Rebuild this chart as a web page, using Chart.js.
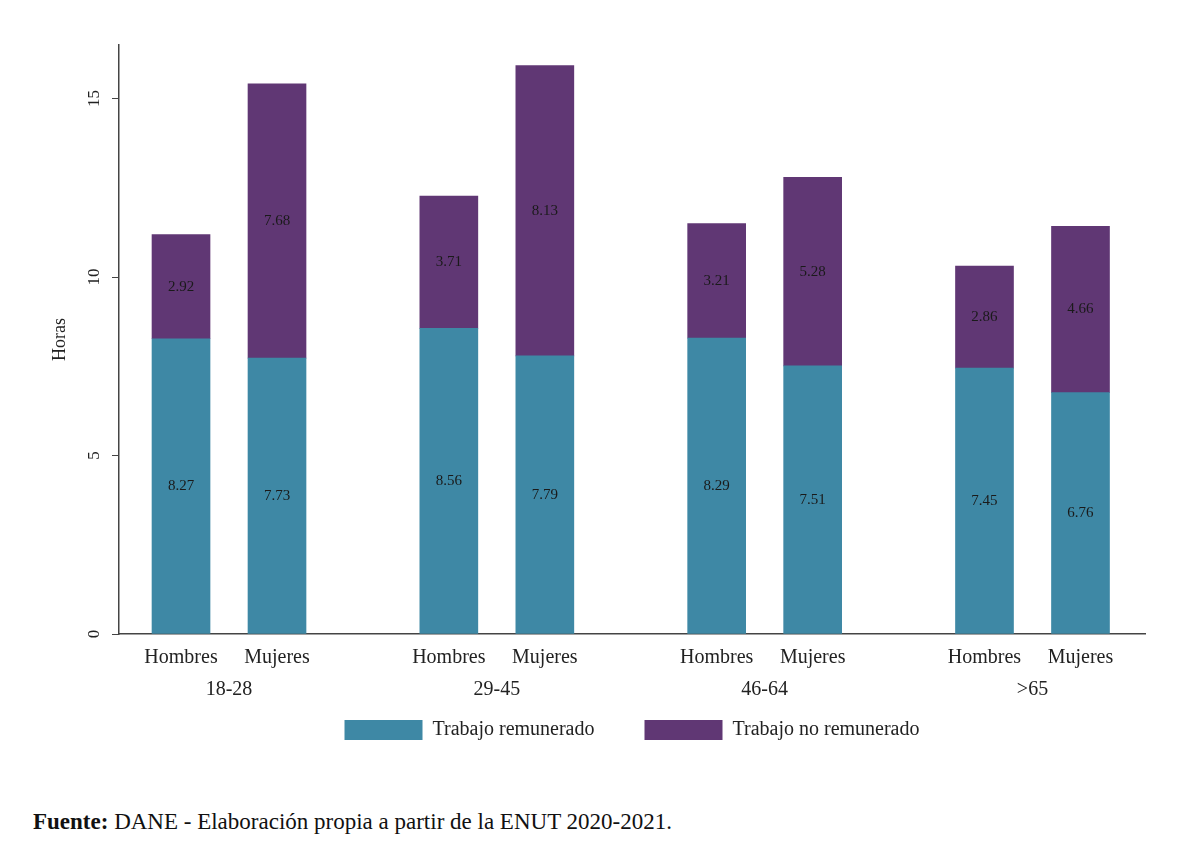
<!DOCTYPE html>
<html>
<head>
<meta charset="utf-8">
<script src="https://cdn.jsdelivr.net/npm/chart.js@4/dist/chart.umd.min.js"></script>
<style>
  html, body { margin: 0; padding: 0; background: #fff; }
  #wrap { position: relative; width: 1183px; height: 854px; }
  #footer { position: absolute; left: 33px; top: 809px; font-family: "Liberation Serif", serif; font-size: 23px; color: #111; }
</style>
</head>
<body>
<div id="wrap">
  <canvas id="chart" width="1183" height="750"></canvas>
  <div id="footer"><b>Fuente:</b> DANE - Elaboración propia a partir de la ENUT 2020-2021.</div>
</div>
<script>
// Data
var groups = ["18-28", "29-45", "46-64", ">65"];
var sexes = ["Hombres", "Mujeres"];
var remunerado = [8.27, 7.73, 8.56, 7.79, 8.29, 7.51, 7.45, 6.76]; // H, M per group
var noRemunerado = [2.92, 7.68, 3.71, 8.13, 3.21, 5.28, 2.86, 4.66];
var yTicks = [0, 5, 10, 15];
// End data

var serif = "'Liberation Serif', 'DejaVu Serif', serif";
var groupStep = 2.79; // spacing between age groups, in bar slots

// x position of each bar (group index * step + sex index)
var xPos = [];
var xLabels = [];
groups.forEach(function (g, gi) {
  sexes.forEach(function (s, si) {
    xPos.push(gi * groupStep + si);
    xLabels.push(s);
  });
});
var groupCenters = groups.map(function (g, gi) { return gi * groupStep + 0.5; });

function toPoints(arr) {
  return arr.map(function (v, i) { return { x: xPos[i], y: v }; });
}

// value labels in the middle of each segment
var segmentLabels = {
  id: "segmentLabels",
  afterDatasetsDraw: function (chart) {
    var ctx = chart.ctx;
    ctx.save();
    ctx.font = "15px " + serif;
    ctx.fillStyle = "#1a1a1a";
    ctx.textAlign = "center";
    ctx.textBaseline = "middle";
    chart.data.datasets.forEach(function (ds, di) {
      chart.getDatasetMeta(di).data.forEach(function (bar, i) {
        var v = ds.data[i].y;
        ctx.fillText(v.toFixed(2), bar.x, (bar.y + bar.base) / 2);
      });
    });
    ctx.restore();
  }
};

// rotated y tick labels and the age-group row under the x labels
var axisText = {
  id: "axisText",
  afterDraw: function (chart) {
    var ctx = chart.ctx;
    var y = chart.scales.y;
    var x = chart.scales.x;
    ctx.save();
    ctx.fillStyle = "#222";
    ctx.textAlign = "center";
    ctx.textBaseline = "middle";
    ctx.font = "17px " + serif;
    yTicks.forEach(function (t) {
      ctx.save();
      ctx.translate(95, y.getPixelForValue(t));
      ctx.rotate(-Math.PI / 2);
      ctx.fillText(String(t), 0, 0);
      ctx.restore();
    });
    ctx.font = "20px " + serif;
    groups.forEach(function (g, gi) {
      ctx.fillText(g, x.getPixelForValue(groupCenters[gi]), x.bottom + 20);
    });
    ctx.restore();
  }
};

var ctx = document.getElementById("chart").getContext("2d");
var myChart = new Chart(ctx, {
  type: "bar",
  data: {
    datasets: [
      {
        label: "Trabajo remunerado",
        data: toPoints(remunerado),
        backgroundColor: "#3e88a5",
        borderWidth: 0,
        barThickness: 58
      },
      {
        label: "Trabajo no remunerado",
        data: toPoints(noRemunerado),
        backgroundColor: "#603774",
        borderWidth: 0,
        barThickness: 58
      }
    ]
  },
  options: {
    responsive: false,
    animation: false,
    layout: { padding: { left: 0, right: 38, top: 45, bottom: 0 } },
    plugins: {
      tooltip: { enabled: false },
      legend: {
        position: "bottom",
        fullSize: false,
        labels: {
          boxWidth: 78,
          boxHeight: 20,
          padding: 50,
          color: "#222",
          font: { family: serif, size: 20 }
        }
      }
    },
    scales: {
      x: {
        type: "linear",
        stacked: true,
        offset: false,
        min: -0.646,
        max: 10.042,
        grid: { display: false, drawTicks: false },
        border: { display: true, color: "#444", width: 1.5 },
        afterBuildTicks: function (scale) {
          scale.ticks = xPos.map(function (v) { return { value: v }; });
        },
        afterFit: function (scale) { scale.height = 36; },
        ticks: {
          autoSkip: false,
          maxRotation: 0,
          padding: 12,
          color: "#222",
          font: { family: serif, size: 20 },
          callback: function (value, index) { return xLabels[index]; }
        }
      },
      y: {
        stacked: true,
        min: 0,
        max: 16.5,
        grid: { drawOnChartArea: false, tickLength: 7, color: "#444" },
        border: { display: true, color: "#444", width: 1.5 },
        afterBuildTicks: function (scale) {
          scale.ticks = yTicks.map(function (v) { return { value: v }; });
        },
        afterFit: function (scale) { scale.width = 119; },
        ticks: { display: false },
        title: {
          display: true,
          text: "Horas",
          color: "#222",
          font: { family: serif, size: 18 },
          padding: { top: 49, bottom: 0 }
        }
      }
    }
  },
  plugins: [segmentLabels, axisText]
});
</script>
</body>
</html>
